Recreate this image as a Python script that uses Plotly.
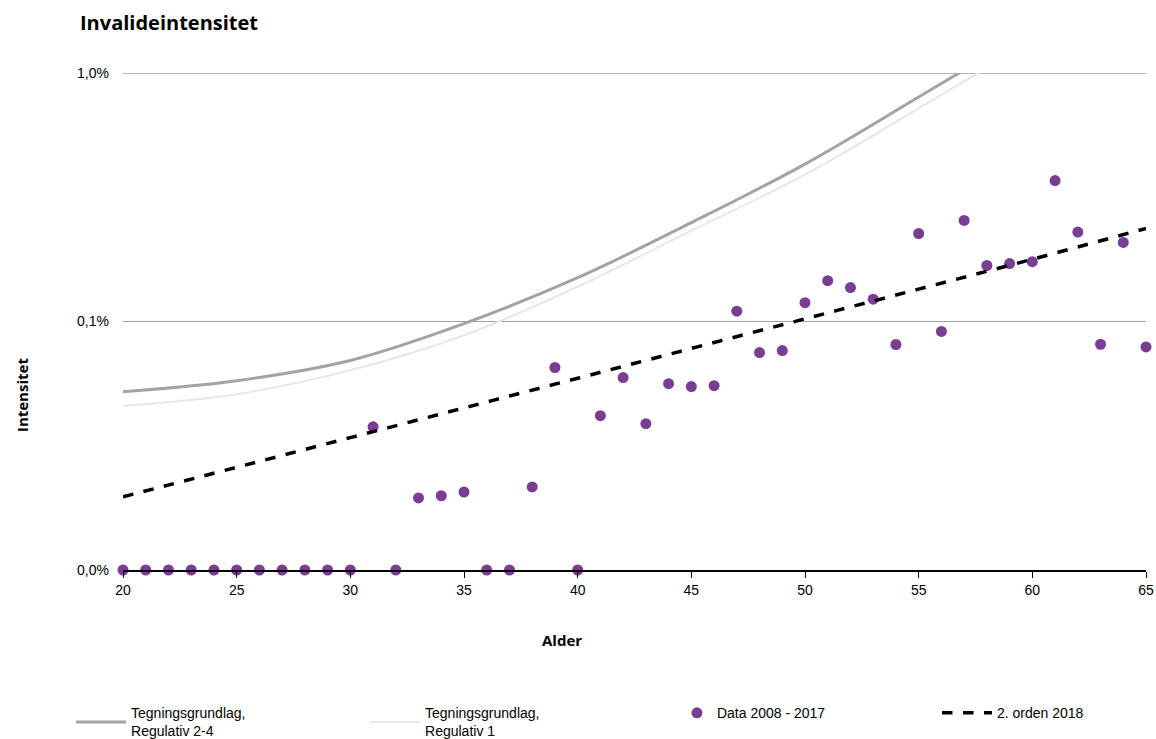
import plotly.graph_objects as go

# Data (intensity in percent)
ages = list(range(20, 66))
data_pct = [0, 0, 0, 0, 0, 0, 0, 0, 0, 0, 0,          # 20-30
            0.0377, 0, 0.0195, 0.0199, 0.0206, 0, 0,  # 31-37
            0.0216, 0.0653, 0, 0.0418, 0.0595, 0.0388, # 38-43
            0.0562, 0.0547, 0.0552, 0.110, 0.075, 0.0764, # 44-49
            0.119, 0.146, 0.137, 0.123, 0.0808, 0.226, # 50-55
            0.0912, 0.255, 0.168, 0.171, 0.174, 0.369, # 56-61
            0.229, 0.081, 0.208, 0.079]                # 62-65

curve_ages = [20, 25, 30, 35, 40, 45, 50, 55, 60]
reg24_pct = [0.0522, 0.0578, 0.0697, 0.098, 0.150, 0.25, 0.43, 0.80, 1.50]
reg1_pct = [0.0458, 0.0510, 0.0636, 0.088, 0.138, 0.232, 0.39, 0.72, 1.35]

trend_ages = [20, 25, 30, 35, 40, 45, 50, 55, 60, 65]
trend_pct = [0.0197, 0.0259, 0.0341, 0.0449, 0.0591, 0.0779, 0.1025, 0.135, 0.178, 0.237]

y_tickvals = [0.01, 0.1, 1]
y_ticktext = ["0,0%", "0,1%", "1,0%"]
x_tickvals = [20, 25, 30, 35, 40, 45, 50, 55, 60, 65]

floor_pct = 0.01  # zero values are drawn on the axis floor
data_plot = [v if v > 0 else floor_pct for v in data_pct]

font_main = "Liberation Sans, Arial, sans-serif"
font_bold = "Open Sans, Noto Sans, sans-serif"

fig = go.Figure()
fig.add_trace(go.Scatter(x=curve_ages, y=reg24_pct, mode="lines", line_shape="spline",
                         line=dict(color="#a3a3a3", width=3),
                         name="Tegningsgrundlag,<br>Regulativ 2-4", legend="legend"))
fig.add_trace(go.Scatter(x=curve_ages, y=reg1_pct, mode="lines", line_shape="spline",
                         line=dict(color="#e6e6ec", width=2),
                         name="Tegningsgrundlag,<br>Regulativ 1", legend="legend2"))
fig.add_trace(go.Scatter(x=ages, y=data_plot, mode="markers",
                         marker=dict(color="#7a3d94", size=11),
                         cliponaxis=False,
                         name="Data 2008 - 2017", legend="legend3"))
fig.add_trace(go.Scatter(x=trend_ages, y=trend_pct, mode="lines", line_shape="spline",
                         line=dict(color="black", width=3.5, dash="dash"),
                         name="2. orden 2018", legend="legend4"))

leg_common = dict(orientation="h", xanchor="left", y=-0.256, yanchor="top",
                  font=dict(family=font_main, size=14, color="black"),
                  bgcolor="rgba(0,0,0,0)")

fig.update_layout(
    width=1156, height=739,
    paper_bgcolor="white", plot_bgcolor="white",
    margin=dict(l=123, r=10, t=73, b=169, autoexpand=False),
    title=dict(text="<b>Invalideintensitet</b>", x=80/1156, xanchor="left",
               y=1 - 23/739, yanchor="middle",
               font=dict(family=font_bold, size=20, color="black")),
    font=dict(family=font_main, size=14, color="black"),
    showlegend=True,
    legend=dict(x=-0.0508, itemwidth=50, **leg_common),
    legend2=dict(x=0.2366, itemwidth=50, **leg_common),
    legend3=dict(x=0.5415, **leg_common),
    legend4=dict(x=0.7957, itemwidth=50, **leg_common),
    shapes=[dict(type="line", xref="paper", x0=0, x1=1, yref="y",
                 y0=y_tickvals[-1], y1=y_tickvals[-1],
                 line=dict(color="#6f6f6f", width=1), layer="below")],
    annotations=[
        dict(text="<b>Alder</b>", xref="paper", yref="paper", x=0.429, y=-0.1408,
             showarrow=False, xanchor="center", yanchor="middle",
             font=dict(family=font_bold, size=15, color="black")),
        dict(text="<b>Intensitet</b>", xref="paper", yref="paper", x=-0.0987, y=0.352,
             showarrow=False, xanchor="center", yanchor="middle", textangle=-90,
             font=dict(family=font_bold, size=15, color="black")),
    ],
)
fig.update_xaxes(range=[20, 65], tickvals=x_tickvals, ticks="outside", ticklen=6,
                 tickcolor="black", showline=True, linecolor="black", linewidth=1.5,
                 showgrid=False, zeroline=False, tickfont=dict(size=14))
fig.update_yaxes(type="log", range=[-2, 0], tickvals=y_tickvals, ticktext=y_ticktext,
                 showgrid=True, gridcolor="#a0a0a0", gridwidth=1, showline=False,
                 zeroline=False, ticks="", ticklabelstandoff=13, tickfont=dict(size=14))

fig.write_html("out.html", config={"displayModeBar": False},
               post_script="document.body.style.margin='0';document.body.style.overflow='hidden';")
